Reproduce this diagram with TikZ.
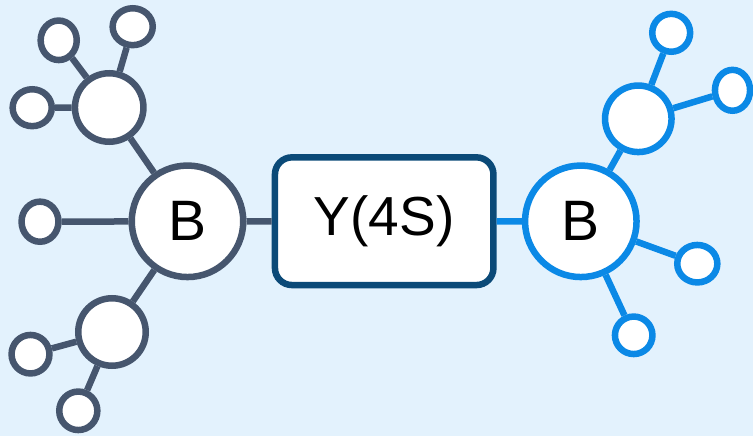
\documentclass[tikz,border=0pt]{standalone}
\usepackage{fontspec}
\setmainfont{Liberation Sans}
\usetikzlibrary{shapes.geometric}
\definecolor{bg}{HTML}{E3F2FD}
\definecolor{slate}{HTML}{46566E}
\definecolor{brightblue}{HTML}{0B89E6}
\definecolor{navy}{HTML}{0B4A78}
\tikzset{
  lw/.style={line width=6.5pt},
  lft/.style={lw, draw=slate},
  rgt/.style={lw, draw=brightblue},
  bigc/.style={circle, fill=white, inner sep=0pt, minimum size=111.5pt, font=\fontsize{57}{60}\selectfont},
  midc/.style={circle, fill=white, inner sep=0pt, minimum size=#1},
  smallc/.style 2 args={ellipse, fill=white, inner sep=0pt, minimum width=#1, minimum height=#2},
  boxn/.style={rectangle, rounded corners=17pt, fill=white, draw=navy, lw, inner sep=0pt, minimum width=218.5pt, minimum height=127.7pt, font=\fontsize{55}{60}\selectfont},
}
\begin{document}
\begin{tikzpicture}[x=1pt,y=-1pt]
\fill[bg] (0,0) rectangle (753,436);
\useasboundingbox (0,0) rectangle (753,436);
% nodes
\node[boxn] (Y) at (384.2,221.2) {Y(4S)};
\node[bigc, lft] (BL) at (187.5,221.3) {B};
\node[bigc, rgt] (BR) at (580.8,221.3) {B};
\node[midc=68.5pt, lft] (LM1) at (109.2,107.5) {};
\node[midc=67.5pt, lft] (LM2) at (112,332) {};
\node[midc=66.5pt, rgt] (RM1) at (638.3,118.8) {};
\node[smallc={36.1pt}{39.5pt}, lft] (L1) at (58.7,40.3) {};
\node[smallc={40.1pt}{36.9pt}, lft] (L2) at (132.7,26.7) {};
\node[smallc={39.1pt}{36.9pt}, lft] (L3) at (32.2,107.7) {};
\node[smallc={36.9pt}{40.1pt}, lft] (L4) at (40,221.7) {};
\node[smallc={37.9pt}{38.5pt}, lft] (L5) at (30.5,354.2) {};
\node[smallc={38.1pt}{38.5pt}, lft] (L6) at (78.3,410.8) {};
\node[smallc={37.9pt}{37.9pt}, rgt] (R1) at (671.2,32.8) {};
\node[smallc={35.1pt}{40.9pt}, rgt] (R2) at (732.5,90.3) {};
\node[smallc={40.1pt}{37.5pt}, rgt] (R3) at (697.3,263.7) {};
\node[smallc={37.5pt}{37.5pt}, rgt] (R4) at (633.7,335.3) {};
% connectors
\draw[lw, slate] (BL) -- (Y);
\draw[lw, brightblue] (Y) -- (BR);
\draw[lw, slate] (BL) -- (LM1);
\draw[lw, slate] (BL) -- (LM2);
\draw[lw, slate] (BL) -- (L4);
\draw[lw, slate] (LM1) -- (L1);
\draw[lw, slate] (LM1) -- (L2);
\draw[lw, slate] (LM1) -- (L3);
\draw[lw, slate] (LM2) -- (L5);
\draw[lw, slate] (LM2) -- (L6);
\draw[lw, brightblue] (BR) -- (RM1);
\draw[lw, brightblue] (BR) -- (R3);
\draw[lw, brightblue] (BR) -- (R4);
\draw[lw, brightblue] (RM1) -- (R1);
\draw[lw, brightblue] (RM1) -- (R2);
\end{tikzpicture}
\end{document}
